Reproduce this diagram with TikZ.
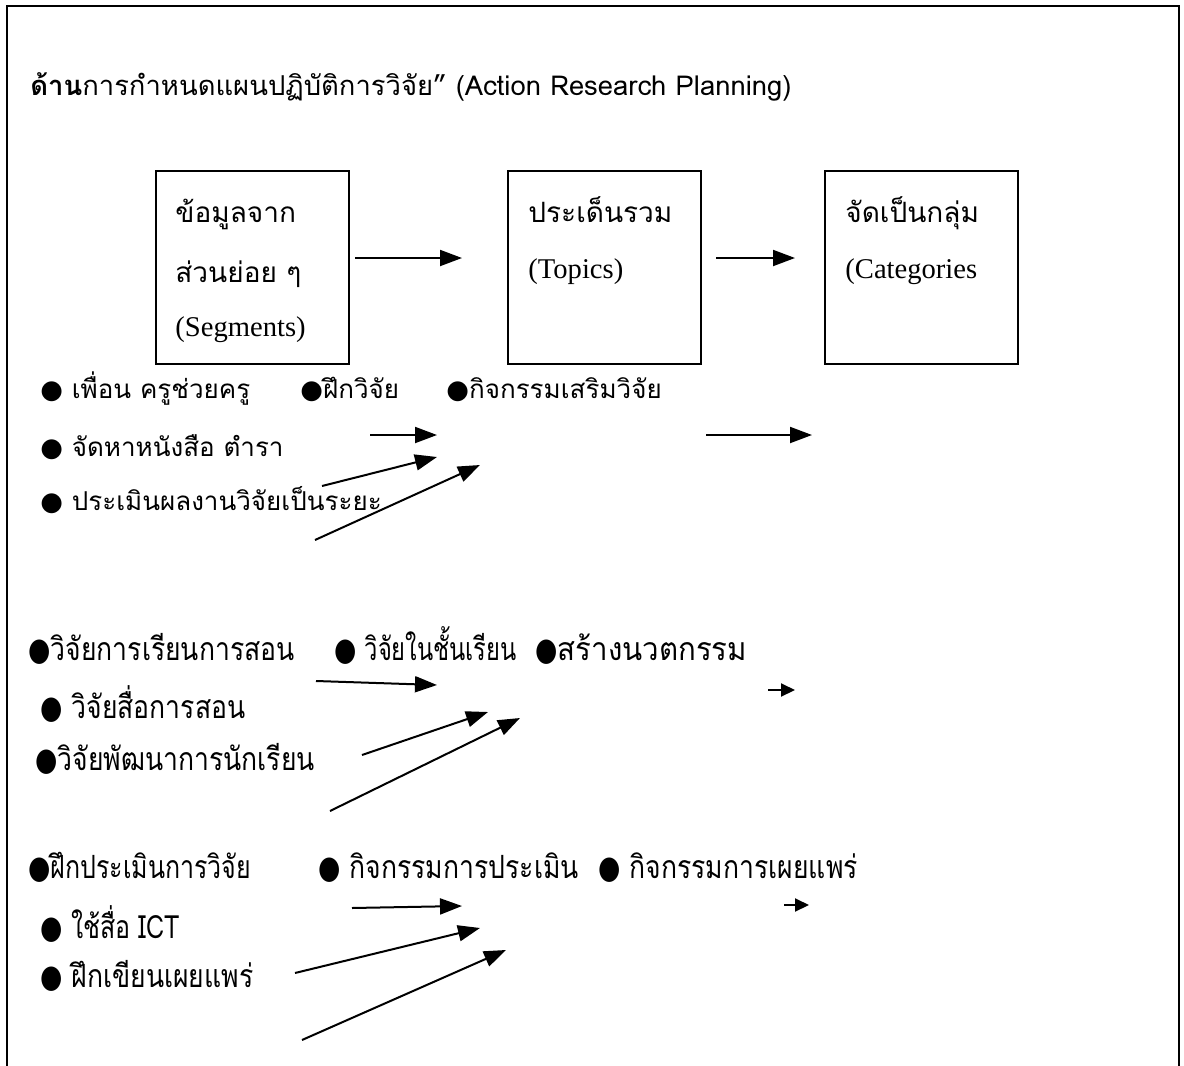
\documentclass[tikz,border=0pt]{standalone}
\usepackage{fontspec}
\usetikzlibrary{arrows.meta}
\newfontfamily\thai[Script=Thai]{Loma}
\newfontfamily\thaicA[Script=Thai,FakeStretch=0.83]{Loma}
\newfontfamily\thaicB[Script=Thai,FakeStretch=0.74]{Loma}
\newfontfamily\thaicC[Script=Thai,FakeStretch=0.92]{Loma}
\newfontfamily\thaicD[Script=Thai,FakeStretch=0.78]{Loma}
\newfontfamily\bul{DejaVu Sans}
\newfontfamily\bulc[FakeStretch=0.8]{DejaVu Sans}
\newfontfamily\serif{Liberation Serif}
\begin{document}
\begin{tikzpicture}[x=0.5pt,y=-0.5pt,
  arr/.style={line width=1pt,-{Triangle[length=11pt,width=8pt]}},
  sarr/.style={line width=1pt,-{Triangle[length=7pt,width=6.5pt]}},
  frame/.style={line width=1pt},
  boxnode/.style={draw,line width=1pt,minimum width=96.5pt,minimum height=96.5pt,inner sep=0pt,anchor=north west},
  ttl/.style={anchor=base west,inner sep=0pt,font=\thai\fontsize{13.7}{16}\selectfont},
  bth/.style={anchor=base west,inner sep=0pt,font=\thai\fontsize{14}{16}\selectfont},
  blat/.style={anchor=base west,inner sep=0pt,font=\serif\fontsize{14.3}{16}\selectfont},
  ga/.style={anchor=base west,inner sep=0pt,font=\thai\fontsize{13}{15}\selectfont},
  gb/.style={anchor=base west,inner sep=0pt,font=\thaicA\fontsize{16}{18}\selectfont},
  gbn/.style={anchor=base west,inner sep=0pt,font=\thaicB\fontsize{16}{18}\selectfont},
  gbw/.style={anchor=base west,inner sep=0pt,font=\thaicC\fontsize{16}{18}\selectfont},
  gbm/.style={anchor=base west,inner sep=0pt,font=\thaicD\fontsize{16}{18}\selectfont}
]
\useasboundingbox (0,0) rectangle (1184,1066);
\draw[frame] (7,1066) -- (7,6) -- (1179,6) -- (1179,1066);

% title
\node[ttl] (title) at (30,95) {{\bfseries ด้าน}การกำหนดแผนปฏิบัติการวิจัย” (Action Research Planning)};

% boxes
\node[boxnode] (b1) at (155,170) {};
\node[boxnode] (b2) at (507,170) {};
\node[boxnode] (b3) at (824,170) {};
\node[bth] (t11) at (175,222) {ข้อมูลจาก};
\node[bth] (t12) at (175,282) {ส่วนย่อย ๆ};
\node[blat] (t13) at (175,336) {(Segments)};
\node[bth] (t21) at (528,222) {ประเด็นรวม};
\node[blat] (t22) at (528,278) {(Topics)};
\node[bth] (t31) at (845,222) {จัดเป็นกลุ่ม};
\node[blat] (t32) at (845,278) {(Categories};

\coordinate (a1s) at (355,258); \coordinate (a1e) at (462,258);
\coordinate (a2s) at (716,258); \coordinate (a2e) at (795,258);
\draw[arr] (a1s) -- (a1e);
\draw[arr] (a2s) -- (a2e);

% group 1
\node[ga] (g11) at (40,398) {{\bul ●} เพื่อน ครูช่วยครู};
\node[ga] (g12) at (300,398) {{\bul ●}ฝึกวิจัย};
\node[ga] (g13) at (446,398) {{\bul ●}กิจกรรมเสริมวิจัย};
\node[ga] (g14) at (40,456) {{\bul ●} จัดหาหนังสือ ตำรา};
\node[ga] (g15) at (40,510) {{\bul ●} ประเมินผลงานวิจัยเป็นระยะ};
\coordinate (p1s) at (370,435); \coordinate (p1e) at (437,435);
\coordinate (p2s) at (322,486); \coordinate (p2e) at (437,457);
\coordinate (p3s) at (315,540); \coordinate (p3e) at (480,465);
\coordinate (p4s) at (706,435); \coordinate (p4e) at (812,435);
\draw[arr] (p1s) -- (p1e);
\draw[arr] (p2s) -- (p2e);
\draw[arr] (p3s) -- (p3e);
\draw[arr] (p4s) -- (p4e);

% group 2
\node[gb] (g21) at (28,660) {{\bulc ●}วิจัยการเรียนการสอน};
\node[gbn] (g22) at (334,660) {{\bulc ●} วิจัยในชั้นเรียน};
\node[gbw] (g23) at (535,660) {{\bulc ●}สร้างนวตกรรม};
\node[gb] (g24) at (40,718) {{\bulc ●} วิจัยสื่อการสอน};
\node[gb] (g25) at (35,770) {{\bulc ●}วิจัยพัฒนาการนักเรียน};
\coordinate (q1s) at (316,681); \coordinate (q1e) at (437,685);
\coordinate (q2s) at (362,755); \coordinate (q2e) at (488,712);
\coordinate (q3s) at (330,811); \coordinate (q3e) at (520,718);
\coordinate (q4s) at (768,690); \coordinate (q4e) at (795,690);
\draw[arr] (q1s) -- (q1e);
\draw[arr] (q2s) -- (q2e);
\draw[arr] (q3s) -- (q3e);
\draw[sarr] (q4s) -- (q4e);

% group 3
\node[gbm] (g31) at (28,878) {{\bulc ●}ฝึกประเมินการวิจัย};
\node[gb] (g32) at (318,878) {{\bulc ●} กิจกรรมการประเมิน};
\node[gb] (g33) at (598,878) {{\bulc ●} กิจกรรมการเผยแพร่};
\node[gbm] (g34) at (40,938) {{\bulc ●} ใช้สื่อ ICT};
\node[gb] (g35) at (40,987) {{\bulc ●} ฝึกเขียนเผยแพร่};
\coordinate (r1s) at (352,908); \coordinate (r1e) at (462,906);
\coordinate (r2s) at (295,973); \coordinate (r2e) at (480,928);
\coordinate (r3s) at (302,1040); \coordinate (r3e) at (506,950);
\coordinate (r4s) at (784,905); \coordinate (r4e) at (809,905);
\draw[arr] (r1s) -- (r1e);
\draw[arr] (r2s) -- (r2e);
\draw[arr] (r3s) -- (r3e);
\draw[sarr] (r4s) -- (r4e);
\end{tikzpicture}
\end{document}
